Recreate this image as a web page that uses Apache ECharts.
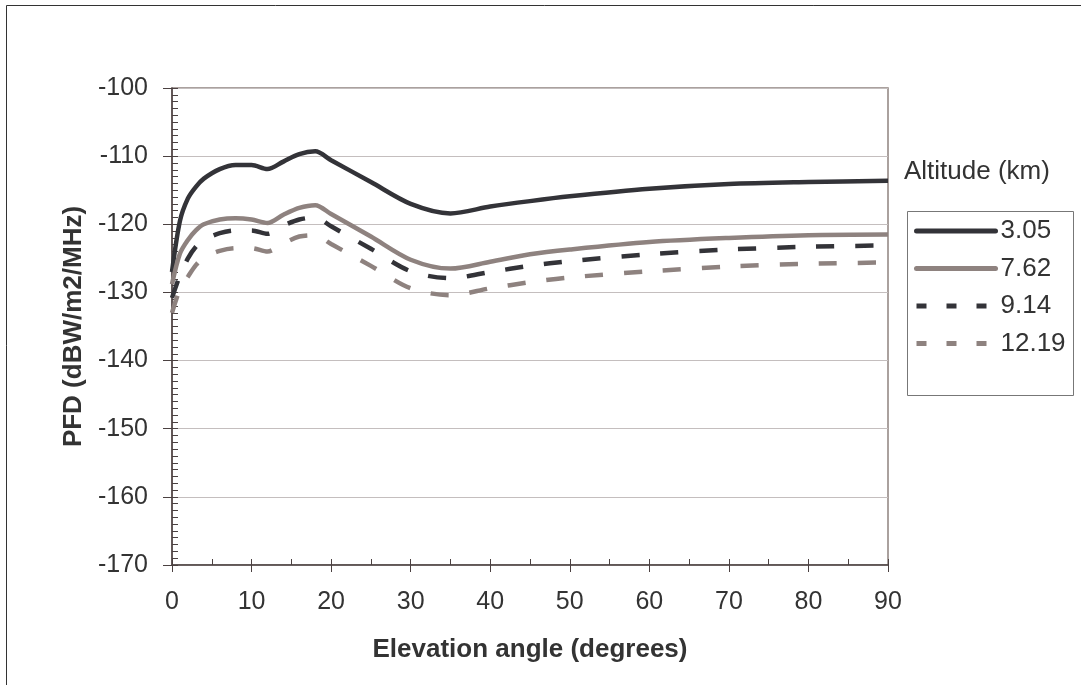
<!DOCTYPE html>
<html><head><meta charset="utf-8">
<script src="https://cdn.jsdelivr.net/npm/echarts@6/dist/echarts.min.js"></script>
<style>html,body{margin:0;padding:0;background:#fff}#c{width:1081px;height:685px}</style>
</head><body><div id="c"></div>
<script>
const elevation = [0,1,2,3,4,6,8,10,12,14,16,18,20,25,30,35,40,45,50,60,70,80,90];
const alt305  = [-127.0,-119.5,-116.2,-114.5,-113.3,-111.9,-111.3,-111.3,-111.9,-110.8,-109.7,-109.3,-110.6,-113.8,-117.0,-118.4,-117.4,-116.6,-115.9,-114.8,-114.1,-113.8,-113.6];
const alt762  = [-128.8,-124.3,-122.3,-120.9,-120.0,-119.3,-119.1,-119.3,-119.8,-118.6,-117.6,-117.2,-118.5,-121.8,-125.2,-126.5,-125.5,-124.4,-123.7,-122.6,-122.0,-121.6,-121.5];
const alt914  = [-130.8,-127.5,-125.0,-123.3,-122.3,-121.3,-120.9,-120.9,-121.4,-120.2,-119.3,-119.0,-120.3,-123.6,-126.9,-127.9,-127.0,-126.1,-125.4,-124.4,-123.7,-123.3,-123.1];
const alt1219 = [-133.0,-129.5,-127.7,-126.0,-124.9,-123.9,-123.5,-123.5,-124.0,-122.8,-121.8,-121.6,-122.9,-126.1,-129.4,-130.4,-129.4,-128.5,-127.8,-126.9,-126.2,-125.8,-125.6];
const seriesNames = ['3.05','7.62','9.14','12.19'];
const xTitle = 'Elevation angle (degrees)';
const yTitle = 'PFD (dBW/m2/MHz)';
const legendTitle = 'Altitude (km)';

const DARK = '#333338', GRAY = '#8e827f';
const pair = arr => elevation.map((e,i)=>[e,arr[i]]);
const FONT = 'Liberation Sans, Arial, sans-serif';
function mk(name, data, color, dashed){
  return {name, type:'line', data:pair(data), xAxisIndex:0, yAxisIndex:0,
    symbol:'none', showSymbol:false, smooth:0.3, z:5,
    lineStyle:{color, width:4.5, type: dashed ? [18,21] : 'solid'},
    itemStyle:{color}};
}
const chart = echarts.init(document.getElementById('c'));
chart.setOption({
  animation:false,
  textStyle:{fontFamily:FONT},
  grid:{left:172, right:193, top:88, bottom:120, show:true, borderColor:'#8e827f', borderWidth:1.5, backgroundColor:'transparent'},
  xAxis:[
    {type:'value', min:0, max:90, interval:10,
     axisLine:{show:true, lineStyle:{color:'#4b4141', width:1.5}},
     axisTick:{show:true, length:7, lineStyle:{color:'#4b4141'}},
     axisLabel:{color:'#333', fontSize:25, margin:25, fontFamily:FONT},
     splitLine:{show:false},
     name:xTitle, nameLocation:'middle', nameGap:72,
     nameTextStyle:{fontSize:26, fontWeight:'bold', color:'#333', fontFamily:FONT}},
    {type:'value', min:0, max:90, interval:5, position:'bottom',
     axisLine:{show:false}, axisTick:{show:true, inside:true, length:6, lineStyle:{color:'#4b4141'}},
     axisLabel:{show:false}, splitLine:{show:false}}
  ],
  yAxis:[
    {type:'value', min:-170, max:-100, interval:10,
     axisLine:{show:true, lineStyle:{color:'#4b4141', width:1.5}},
     axisTick:{show:true, length:9, lineStyle:{color:'#4b4141'}},
     axisLabel:{color:'#333', fontSize:25, margin:24, fontFamily:FONT},
     splitLine:{show:true, lineStyle:{color:'#c4bebe', width:1}},
     name:yTitle, nameLocation:'middle', nameGap:76,
     nameTextStyle:{fontSize:26, fontWeight:'bold', color:'#333', fontFamily:FONT}},
    {type:'value', min:-170, max:-100, interval:1, position:'left',
     axisLine:{show:false}, axisTick:{show:true, inside:true, length:6, lineStyle:{color:'#4b4141'}},
     axisLabel:{show:false}, splitLine:{show:false}}
  ],
  legend:{
    orient:'vertical', left:914, top:217, padding:0, itemGap:9.5,
    itemWidth:79, itemHeight:14,
    itemStyle:{opacity:0, borderWidth:0},
    textStyle:{fontSize:26, color:'#333', lineHeight:28, fontFamily:FONT},
    data:[
      {name:seriesNames[0], lineStyle:{width:5, cap:'round'}},
      {name:seriesNames[1], lineStyle:{width:5, cap:'round'}},
      {name:seriesNames[2], lineStyle:{width:5, type:[10,20]}},
      {name:seriesNames[3], lineStyle:{width:5, type:[10,20]}}
    ]
  },
  graphic:[
    {type:'rect', shape:{x:6.5, y:5.5, width:1200, height:800}, style:{fill:'none', stroke:'#333', lineWidth:1}, silent:true},
    {type:'rect', shape:{x:907.5, y:211.5, width:166, height:184}, style:{fill:'#fff', stroke:'#777', lineWidth:1}, z:-1, silent:true},
    {type:'text', left:904, top:159, style:{text:legendTitle, fontSize:26, fill:'#333', fontFamily:FONT}}
  ],
  series:[
    mk(seriesNames[0], alt305, DARK, false),
    mk(seriesNames[1], alt762, GRAY, false),
    mk(seriesNames[2], alt914, DARK, true),
    mk(seriesNames[3], alt1219, GRAY, true)
  ]
});
</script></body></html>
